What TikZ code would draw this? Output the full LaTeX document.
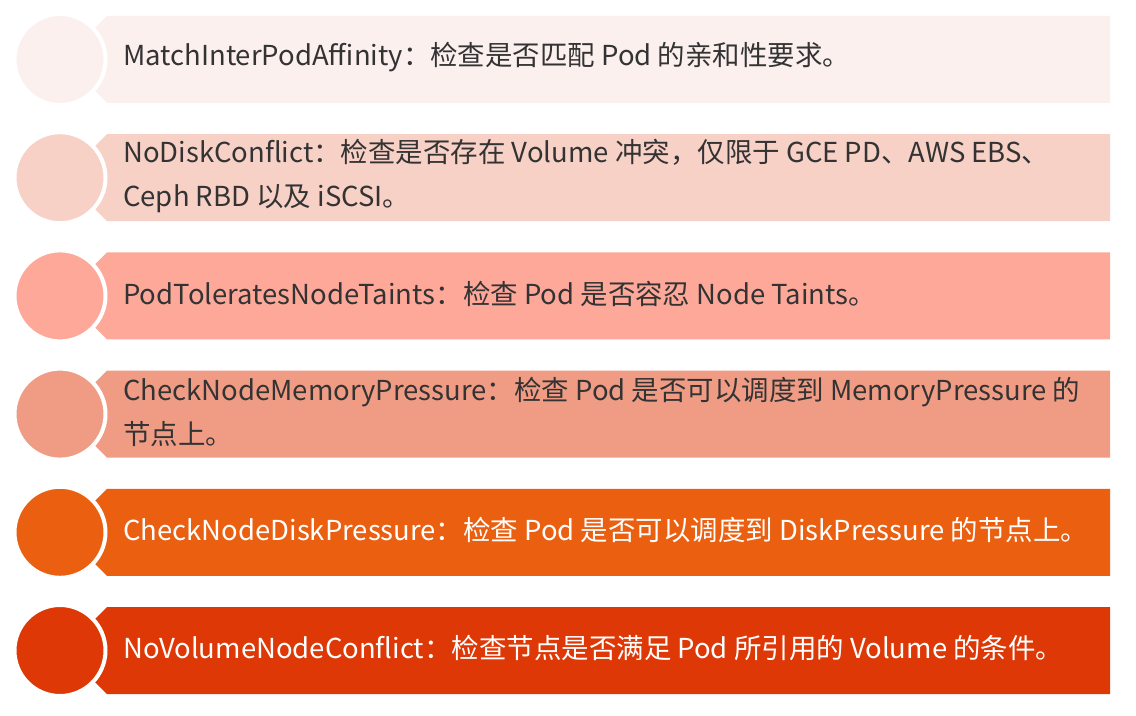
\documentclass[tikz,border=0pt]{standalone}
\usepackage{fontspec}
\setmainfont{Noto Sans CJK SC}
\usetikzlibrary{calc,positioning}
\definecolor{row1}{HTML}{FBF0EE}
\definecolor{row2}{HTML}{F7D0C6}
\definecolor{row3}{HTML}{FEA89A}
\definecolor{row4}{HTML}{F09C85}
\definecolor{row5}{HTML}{EA5F10}
\definecolor{row6}{HTML}{DD3806}
\definecolor{darktext}{HTML}{333333}
\begin{document}
\begin{tikzpicture}[x=0.75pt,y=-0.75pt,
  dot/.style={circle,draw=white,line width=3pt,minimum size=68.25pt,inner sep=0pt},
  txt/.style={align=left,inner sep=0pt,yshift=1.5pt,font=\fontsize{20.6}{33}\selectfont}]

\useasboundingbox (0,0) rectangle (1136,716);

% Bars and circles
\foreach \i in {1,...,6} {
  \pgfmathsetmacro{\ytop}{16+118.2*(\i-1)}
  \fill[row\i] (107,\ytop) -- (1110,\ytop) -- (1110,\ytop+87) -- (107,\ytop+87) -- (63.5,\ytop+43.5) -- cycle;
  \node[dot,fill=row\i] (circ\i) at (60,\ytop+43.5) {};
}

% Labels
\node[txt,text=darktext,right=11.6pt of circ1] (label1) {MatchInterPodAffinity：检查是否匹配 Pod 的亲和性要求。};
\node[txt,text=darktext,right=11.6pt of circ2] (label2) {NoDiskConflict：检查是否存在 Volume 冲突，仅限于 GCE PD、AWS EBS、\\Ceph RBD 以及 iSCSI。};
\node[txt,text=darktext,right=11.6pt of circ3] (label3) {PodToleratesNodeTaints：检查 Pod 是否容忍 Node Taints。};
\node[txt,text=darktext,right=11.6pt of circ4] (label4) {CheckNodeMemoryPressure：检查 Pod 是否可以调度到 MemoryPressure 的\\节点上。};
\node[txt,text=white,right=11.6pt of circ5] (label5) {CheckNodeDiskPressure：检查 Pod 是否可以调度到 DiskPressure 的节点上。};
\node[txt,text=white,right=11.6pt of circ6] (label6) {NoVolumeNodeConflict：检查节点是否满足 Pod 所引用的 Volume 的条件。};

\end{tikzpicture}
\end{document}
